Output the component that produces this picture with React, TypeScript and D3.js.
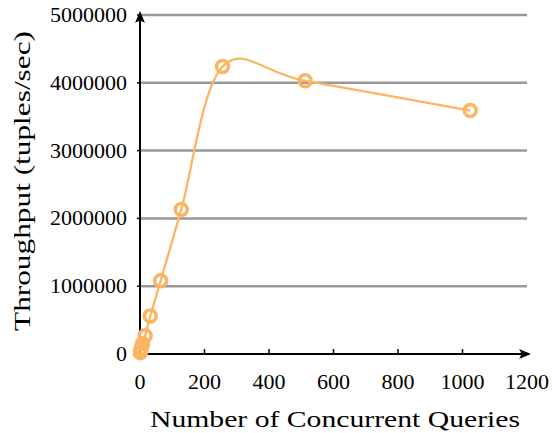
import React from 'react';
import * as d3 from 'd3';

// concurrent queries vs throughput
const queries = [1, 2, 4, 8, 16, 32, 64, 128, 256, 512, 1024];
const throughput = [20000, 45000, 85000, 150000, 270000, 560000, 1080000, 2130000, 4240000, 4030000, 3590000];
const xTicks = [0, 200, 400, 600, 800, 1000, 1200];
const yTicks = [0, 1000000, 2000000, 3000000, 4000000, 5000000];

const W = 552, H = 433;
const left = 140, right = 527, top = 15, bottom = 354;
const orange = '#fdb462';
const font = "'Liberation Serif', 'DejaVu Serif', serif";

export default function App() {
  const x = d3.scaleLinear().domain([0, 1200]).range([left, right]);
  const y = d3.scaleLinear().domain([0, 5000000]).range([bottom, top]);

  const pts: [number, number][] = queries.map((q, i) => [x(q), y(throughput[i])]);
  const line = d3.line().curve(d3.curveCardinal.tension(0))(pts) || '';

  return (
    <svg width={W} height={H} style={{ position: 'absolute', left: 0, top: 0, background: '#fff' }}>
      <defs>
        <marker id="arr" viewBox="0 0 12 10" refX="10" refY="5" markerWidth="12" markerHeight="10" markerUnits="userSpaceOnUse" orient="auto">
          <path d="M0,0 Q4,5 0,10 L12,5 Z" fill="#000" />
        </marker>
      </defs>
      {/* grid */}
      {yTicks.slice(1).map(t => (
        <line key={t} x1={left} x2={right} y1={y(t)} y2={y(t)} stroke="#999" strokeWidth={2.5} />
      ))}
      {/* ticks */}
      {xTicks.slice(1, -1).map(t => (
        <line key={t} x1={x(t)} x2={x(t)} y1={bottom} y2={bottom - 5} stroke="#000" strokeWidth={1.5} />
      ))}
      {yTicks.slice(1).map(t => (
        <line key={t} x1={left - 3} x2={left} y1={y(t)} y2={y(t)} stroke="#000" strokeWidth={1.5} />
      ))}
      {/* axes */}
      <line x1={left} x2={left} y1={bottom} y2={top - 2} stroke="#000" strokeWidth={2} markerEnd="url(#arr)" />
      <line x1={left} x2={right + 2} y1={bottom} y2={bottom} stroke="#000" strokeWidth={2} markerEnd="url(#arr)" />
      {/* tick labels */}
      {xTicks.map(t => (
        <text key={t} x={x(t)} y={389} textAnchor="middle" fontFamily={font} fontSize={22}>{t}</text>
      ))}
      {yTicks.map(t => (
        <text key={t} x={127} y={y(t) + 7} textAnchor="end" fontFamily={font} fontSize={22}>{t}</text>
      ))}
      {/* series */}
      <path d={line} fill="none" stroke={orange} strokeWidth={2.3} />
      {pts.map((p, i) => (
        <circle key={i} cx={p[0]} cy={p[1]} r={6} fill="none" stroke={orange} strokeWidth={3.5} />
      ))}
      {/* axis labels */}
      <text x={150} y={427} fontFamily={font} fontSize={23} textLength={370} lengthAdjust="spacingAndGlyphs">Number of Concurrent Queries</text>
      <text transform="translate(30,331) rotate(-90)" fontFamily={font} fontSize={23} textLength={300} lengthAdjust="spacingAndGlyphs">Throughput (tuples/sec)</text>
    </svg>
  );
}
